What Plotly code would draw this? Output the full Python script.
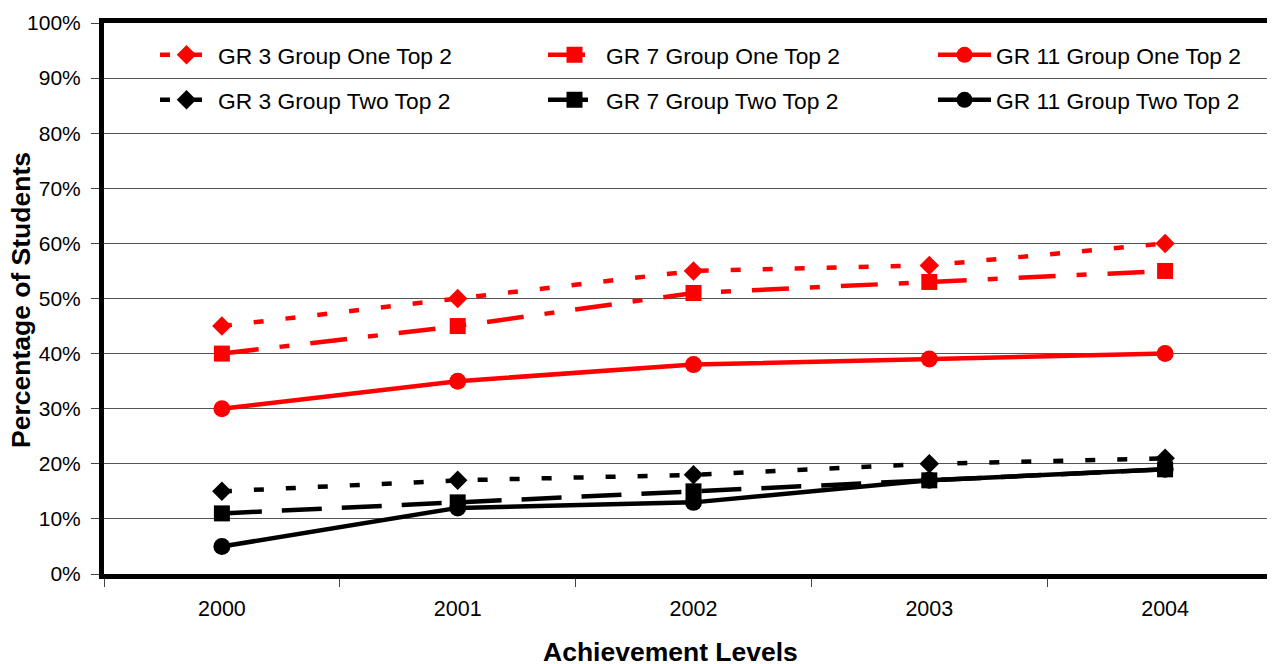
import plotly.graph_objects as go

years = ["2000", "2001", "2002", "2003", "2004"]
gr3_one = [45, 50, 55, 56, 60]
gr7_one = [40, 45, 51, 53, 55]
gr11_one = [30, 35, 38, 39, 40]
gr3_two = [15, 17, 18, 20, 21]
gr7_two = [11, 13, 15, 17, 19]
gr11_two = [5, 12, 13, 17, 19]
y_ticks = list(range(0, 101, 10))
y_tick_labels = [f"{v}%" for v in y_ticks]

series = [
    ("GR 3 Group One Top 2", gr3_one, "#ff0000", "10px,22px", "diamond", 15),
    ("GR 7 Group One Top 2", gr7_one, "#ff0000", "37px,21px,10px,21px", "square", 16),
    ("GR 11 Group One Top 2", gr11_one, "#ff0000", "solid", "circle", 17),
    ("GR 3 Group Two Top 2", gr3_two, "#000000", "10px,22px", "diamond", 15),
    ("GR 7 Group Two Top 2", gr7_two, "#000000", "40px,20px", "square", 16),
    ("GR 11 Group Two Top 2", gr11_two, "#000000", "solid", "circle", 17),
]

FONT = "Arial, Liberation Sans, sans-serif"
OFF = 8  # page body margin
W, H = 1275, 664
L, R, T, B = 96, 0, 15, 98
pw = W - L - R
ph = H - T - B

def px_x(page_x):
    return (page_x - OFF - L) / pw

def px_y(page_y):
    return (T + ph - (page_y - OFF)) / ph

# legend marker targets (page pixels) for the 3 columns x 2 rows
col_marker_x = [185, 573, 963]
row_y = [55, 100]

fig = go.Figure()
legends = {}
for i, (name, vals, color, dash, sym, size) in enumerate(series):
    key = "legend" if i == 0 else f"legend{i + 1}"
    fig.add_trace(go.Scatter(
        x=years, y=vals, name=name, mode="lines+markers",
        line=dict(color=color, width=4.5, dash=dash),
        marker=dict(symbol=sym, size=size, color=color),
        legend=key,
    ))
    row, col = divmod(i, 3)
    legends[key] = dict(
        x=px_x(col_marker_x[col] - 30), y=px_y(row_y[row]),
        xanchor="left", yanchor="middle", orientation="h",
        font=dict(family=FONT, size=22.8, color="#000"),
        bgcolor="rgba(0,0,0,0)", itemwidth=53,
    )

fig.update_layout(
    width=W, height=H,
    margin=dict(l=L, r=R, t=T, b=B, autoexpand=False),
    paper_bgcolor="white", plot_bgcolor="white",
    font=dict(family=FONT, size=21, color="#000"),
    showlegend=True,
    xaxis=dict(
        type="category", categoryorder="array", categoryarray=years,
        range=[-0.5, 4.5],
        showline=True, linewidth=5, linecolor="#000", mirror=True,
        showgrid=False, tickson="boundaries", ticks="outside",
        ticklen=8, tickwidth=1, tickcolor="#444",
        ticklabelstandoff=11,
        tickfont=dict(family=FONT, size=21.5, color="#000"),
    ),
    yaxis=dict(
        range=[0, 100], tickvals=y_ticks, ticktext=y_tick_labels,
        showline=True, linewidth=5, linecolor="#000",
        showgrid=True, gridcolor="#555", gridwidth=1,
        zeroline=False, ticks="outside", ticklen=8, tickwidth=1,
        tickcolor="#444", ticklabelstandoff=6,
        tickfont=dict(family=FONT, size=21, color="#000"),
    ),
    annotations=[
        dict(text="<b>Achievement Levels</b>", xref="paper", yref="paper",
             x=px_x(670), y=px_y(652), xanchor="center", yanchor="middle",
             showarrow=False, font=dict(family=FONT, size=26.5, color="#000")),
        dict(text="<b>Percentage of Students</b>", xref="paper", yref="paper",
             x=px_x(21), y=px_y(300), xanchor="center", yanchor="middle",
             textangle=-90, showarrow=False,
             font=dict(family=FONT, size=26.5, color="#000")),
    ],
    **legends,
)

fig.write_html("out.html")
